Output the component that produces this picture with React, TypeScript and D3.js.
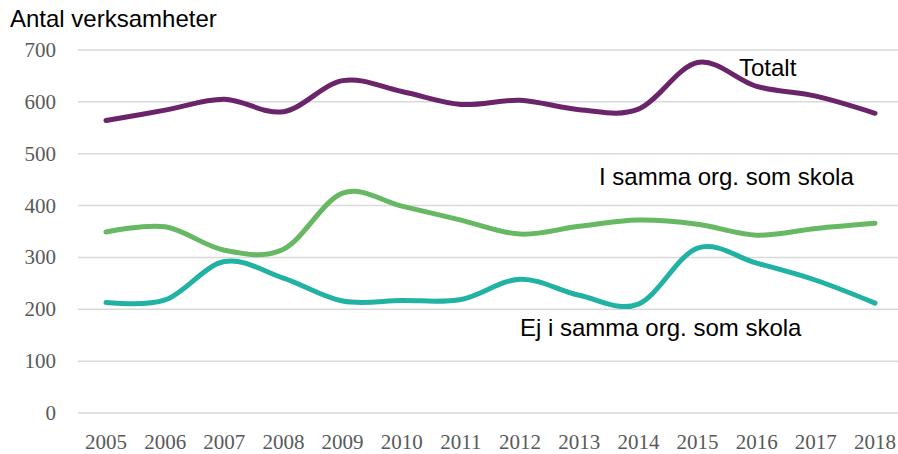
import * as d3 from 'd3';
import { useRef, useEffect } from 'react';

// DATA
const years = [
  '2005', '2006', '2007', '2008', '2009', '2010', '2011',
  '2012', '2013', '2014', '2015', '2016', '2017', '2018',
];
const totalt = [564, 584, 605, 581, 641, 620, 595, 603, 585, 586, 676, 630, 611, 578];
const sammaOrg = [349, 359, 314, 316, 424, 399, 372, 345, 360, 372, 364, 343, 356, 366];
const ejSammaOrg = [213, 218, 292, 260, 216, 217, 219, 258, 227, 210, 318, 289, 256, 212];
const yTicks = [0, 100, 200, 300, 400, 500, 600, 700];

const series = [
  { name: 'Totalt', values: totalt, color: '#6b2469' },
  { name: 'I samma org. som skola', values: sammaOrg, color: '#66b863' },
  { name: 'Ej i samma org. som skola', values: ejSammaOrg, color: '#22b2a3' },
];

const width = 898;
const height = 454;

function App() {
  const svgRef = useRef<SVGSVGElement>(null);

  useEffect(() => {
    const svg = d3.select(svgRef.current);
    svg.selectAll('*').remove();

    const xScale = d3.scalePoint().domain(years).range([106, 875]);
    const yScale = d3.scaleLinear().domain([0, 700]).range([413, 50]);

    // gridlines
    svg
      .append('g')
      .selectAll('line')
      .data(yTicks)
      .join('line')
      .attr('x1', 78)
      .attr('x2', width)
      .attr('y1', (d) => yScale(d))
      .attr('y2', (d) => yScale(d))
      .attr('stroke', '#d9d9d9')
      .attr('stroke-width', 1.5);

    // y tick labels
    svg
      .append('g')
      .selectAll('text')
      .data(yTicks)
      .join('text')
      .attr('x', 56)
      .attr('y', (d) => yScale(d) + 7)
      .attr('text-anchor', 'end')
      .attr('font-family', 'Liberation Serif, serif')
      .attr('font-size', '21px')
      .attr('fill', '#595959')
      .text((d) => d);

    // x tick labels
    svg
      .append('g')
      .selectAll('text')
      .data(years)
      .join('text')
      .attr('x', (d) => xScale(d)!)
      .attr('y', 449)
      .attr('text-anchor', 'middle')
      .attr('font-family', 'Liberation Serif, serif')
      .attr('font-size', '21px')
      .attr('fill', '#595959')
      .text((d) => d);

    // lines
    const line = d3
      .line<number>()
      .curve(d3.curveCardinal.tension(0))
      .x((d, i) => xScale(years[i])!)
      .y((d) => yScale(d));

    svg
      .append('g')
      .selectAll('path')
      .data(series)
      .join('path')
      .attr('d', (d) => line(d.values))
      .attr('fill', 'none')
      .attr('stroke', (d) => d.color)
      .attr('stroke-width', 5)
      .attr('stroke-linecap', 'round');

    // labels
    const labels = [
      { text: 'Antal verksamheter', x: 10, y: 27 },
      { text: 'Totalt', x: 739, y: 76 },
      { text: 'I samma org. som skola', x: 599, y: 185 },
      { text: 'Ej i samma org. som skola', x: 520, y: 336 },
    ];
    svg
      .append('g')
      .selectAll('text')
      .data(labels)
      .join('text')
      .attr('x', (d) => d.x)
      .attr('y', (d) => d.y)
      .attr('font-family', 'Liberation Sans, Arial, sans-serif')
      .attr('font-size', '24px')
      .attr('fill', '#000')
      .text((d) => d.text);
  }, []);

  return (
    <svg
      ref={svgRef}
      width={width}
      height={height}
      style={{ position: 'absolute', left: 0, top: 0, background: '#fff' }}
    />
  );
}

export default App;
